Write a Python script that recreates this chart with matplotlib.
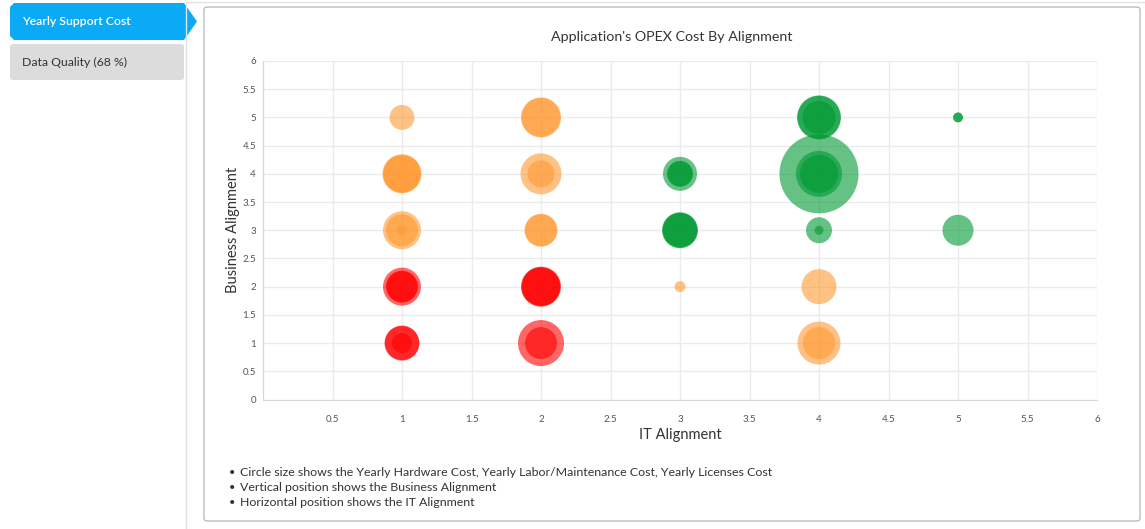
import numpy as np
import matplotlib.pyplot as plt
from matplotlib.patches import FancyBboxPatch, Polygon
from matplotlib.lines import Line2D

plt.rcParams['font.family'] = ['Lato', 'DejaVu Sans']

# one entry per application
it_align = [1, 2, 1, 2, 1, 2, 1, 2, 1, 2, 3, 4, 4, 3, 3, 4, 4, 4, 5, 5]
bus_align = [5, 5, 4, 4, 3, 3, 2, 2, 1, 1, 2, 2, 1, 3, 4, 3, 4, 5, 3, 5]
status = ['amber', 'amber', 'amber', 'amber', 'amber', 'amber',
          'red', 'red', 'red', 'red',
          'amber', 'amber', 'amber',
          'green', 'green', 'green', 'green', 'green', 'green', 'green']

# yearly costs (K$), circle area ~ cost
hardware_cost = [156, 400, 380, 420, 361, 272, 361, 400, 306, 529, 30, 306, 462, 324, 289, 169, 1560, 484, 240, 25]
labor_cost = [0, 380, 361, 182, 256, 256, 256, 380, 289, 256, 0, 0, 256, 306, 169, 20, 529, 462, 0, 23]
license_cost = [0, 0, 342, 0, 25, 0, 240, 361, 100, 0, 0, 0, 0, 289, 156, 0, 361, 272, 0, 0]

tick_vals = np.arange(0, 6.01, 0.5)
tick_text = ['0', '0.5', '1', '1.5', '2', '2.5', '3', '3.5', '4', '4.5', '5', '5.5', '6']

notes = ['Circle size shows the Yearly Hardware Cost, Yearly Labor/Maintenance Cost, Yearly Licenses Cost',
         'Vertical position shows the Business Alignment',
         'Horizontal position shows the IT Alignment']

colours = {'red': '#ff0000', 'amber': '#ff9933', 'green': '#009933'}

W, H = 1145, 529
fig = plt.figure(figsize=(W / 100, H / 100), dpi=100)


def fx(px):
    return px / W


def fy(py):
    return 1 - py / H


# left tab bar
fig.add_artist(Line2D([fx(186), fx(186)], [fy(2), 0], color='#e3e3e3', lw=1))
fig.add_artist(Line2D([fx(186), 1], [fy(2), fy(2)], color='#e3e3e3', lw=1))
tab = Polygon([(fx(14), fy(3)), (fx(184), fy(3)), (fx(197), fy(21.5)), (fx(184), fy(40)),
               (fx(14), fy(40)), (fx(10), fy(36)), (fx(10), fy(7))],
              closed=True, facecolor='#0aaaf7', edgecolor='none', transform=fig.transFigure)
fig.add_artist(tab)
fig.text(fx(22), fy(21.5), 'Yearly Support Cost', color='white', fontsize=8.8,
         fontweight='semibold', va='center')
fig.add_artist(FancyBboxPatch((fx(10), fy(80)), fx(174), (80 - 44) / H,
                              boxstyle='round,pad=0,rounding_size=0.004',
                              facecolor='#dcdcdc', edgecolor='none', transform=fig.transFigure))
fig.text(fx(22), fy(62), 'Data Quality (68 %)', color='#333333', fontsize=8.8, va='center')

# chart panel
fig.add_artist(FancyBboxPatch((fx(204), fy(521)), fx(936), (521 - 7) / H,
                              boxstyle='round,pad=0,rounding_size=0.004',
                              facecolor='none', edgecolor='#bdbdbd', lw=1,
                              transform=fig.transFigure))

fig.text(fx(672), fy(37), "Application's OPEX Cost By Alignment", ha='center', va='center',
         fontsize=10.3, color='#333333')

ax = fig.add_axes([fx(263), fy(399.5), (1097 - 263) / W, (399.5 - 61) / H])
ax.set_xlim(0, 6)
ax.set_ylim(0, 6)
ax.set_xticks(tick_vals)
ax.set_xticklabels([''] + tick_text[1:])
ax.set_yticks(tick_vals)
ax.set_yticklabels(tick_text)
ax.tick_params(axis='both', length=0, labelsize=7, labelcolor='#555555')
ax.tick_params(axis='x', pad=11)
ax.tick_params(axis='y', pad=5)
ax.grid(True, color='#ebebeb', lw=1)
ax.set_axisbelow(True)
for side in ['top', 'right']:
    ax.spines[side].set_visible(False)
for side in ['left', 'bottom']:
    ax.spines[side].set_color('#d8d8d8')

point_colours = [colours[s] for s in status]
size_scale = 4 * (72 / 100) ** 2
for cost in [hardware_cost, labor_cost, license_cost]:
    ax.scatter(it_align, bus_align, s=np.array(cost) * size_scale, c=point_colours,
               alpha=0.6, edgecolors='none', zorder=3, clip_on=False)

ax.set_xlabel('IT Alignment', fontsize=10.5, color='#333333', labelpad=3)
ax.set_ylabel('Business Alignment', fontsize=10.5, color='#333333', labelpad=2)

for i, line in enumerate(notes):
    y = fy(472 + i * 15.5)
    fig.text(fx(229), y, '\u2022', fontsize=8, color='#333333', va='center')
    fig.text(fx(240), y, line, fontsize=8.9, color='#333333', va='center')

fig.savefig('out.png', dpi=100)
